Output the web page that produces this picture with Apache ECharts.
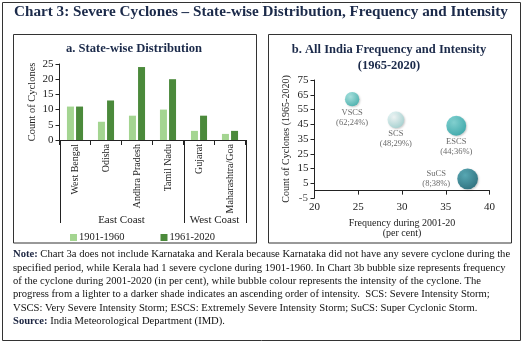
<!DOCTYPE html>
<html><head><meta charset="utf-8">
<script src="https://cdn.jsdelivr.net/npm/echarts@6/dist/echarts.min.js"></script>
<style>html,body{margin:0;padding:0;background:#fff}#c{width:523px;height:343px}</style>
</head><body><div id="c"></div>
<script>
// ---------- data ----------
const mainTitle = 'Chart 3: Severe Cyclones \u2013 State-wise Distribution, Frequency and Intensity';
const titleA = 'a. State-wise Distribution';
const titleB = 'b. All India Frequency and Intensity\n(1965-2020)';
const states = ['West Bengal', 'Odisha', 'Andhra Pradesh', 'Tamil Nadu', 'Gujarat', 'Maharashtra/Goa'];
const groupNames = ['East Coast', 'West Coast'];
const groupStart = [0, 4];
const groupEnd = [3, 5];
const periodNames = ['1901-1960', '1961-2020'];
const counts1901 = [11, 6, 8, 10, 3, 2];
const counts1961 = [11, 13, 24, 20, 8, 3];
const countTicksA = [0, 5, 10, 15, 20, 25];

const stormTypes = ['VSCS', 'SCS', 'ESCS', 'SuCS'];
const stormFreqX = [24.3, 29.3, 36.2, 37.5];   // plotted position
const stormCount = [62, 48, 44, 8];
const stormPct = [24, 29, 36, 38];              // labelled per cent (bubble size)
const countTicksB = [-5, 5, 15, 25, 35, 45, 55, 65, 75];
const freqTicks = [20, 25, 30, 35, 40];

const noteLines = [
  ['Note:', ' Chart 3a does not include Karnataka and Kerala because Karnataka did not have any severe cyclone during the'],
  ['', 'specified period, while Kerala had 1 severe cyclone during 1901-1960. In Chart 3b bubble size represents frequency'],
  ['', 'of the cyclone during 2001-2020 (in per cent), while bubble colour represents the intensity of the cyclone. The'],
  ['', 'progress from a lighter to a darker shade indicates an ascending order of intensity.  SCS: Severe Intensity Storm;'],
  ['', 'VSCS: Very Severe Intensity Storm; ESCS: Extremely Severe Intensity Storm; SuCS: Super Cyclonic Storm.'],
  ['Source:', ' India Meteorological Department (IMD).']
];

// ---------- styles ----------
const FONT = '"Liberation Serif", "Times New Roman", serif';
const lightGreen = '#a4d591';
const darkGreen = '#4b8a3b';
const bubbleColors = [
  ['#9ee3df', '#2aa8a4'],
  ['#f4fcfc', '#98cfce'],
  ['#6fd0cf', '#1a9ea1'],
  ['#3a9eac', '#085a6b']
];

const chart = echarts.init(document.getElementById('c'), null, {renderer: 'canvas'});

const bubbleData = stormTypes.map((t, i) => ({
  name: t,
  value: [stormFreqX[i], stormCount[i], stormPct[i]],
  itemStyle: {
    color: new echarts.graphic.RadialGradient(0.38, 0.33, 0.75, [
      {offset: 0, color: bubbleColors[i][0]},
      {offset: 1, color: bubbleColors[i][1]}
    ]),
    shadowColor: 'rgba(0,0,0,0.25)', shadowBlur: 2, shadowOffsetX: 1, shadowOffsetY: 1
  },
  label: t === 'SuCS' ? {position: [-21, 10], verticalAlign: 'middle'} : {position: 'bottom', distance: 1}
}));

const noteGraphics = noteLines.map((ln, i) => ({
  id: 'note' + i, type: 'text', left: 13, top: 249 + i * 13.4,
  style: {
    text: (ln[0] ? '{b|' + ln[0] + '}' : '') + '{n|' + ln[1] + '}',
    rich: {
      b: {fontFamily: FONT, fontSize: 10.6, fontWeight: 'bold', fill: '#1b2440'},
      n: {fontFamily: FONT, fontSize: 10.6, fill: '#111'}
    }
  }
}));

const axisLineStyle = {lineStyle: {color: '#222', width: 1}};
const axisLabelStyle = {fontFamily: FONT, fontSize: 10, color: '#222'};

chart.setOption({
  animation: false,
  textStyle: {fontFamily: FONT},
  grid: [
    {left: 59.5, top: 64, width: 186, height: 76},
    {left: 314.5, top: 80, width: 175, height: 118}
  ],
  legend: {
    data: periodNames, left: 65, top: 227, itemWidth: 7, itemHeight: 7, itemGap: 36,
    icon: 'rect',
    textStyle: {fontFamily: FONT, fontSize: 10.5, color: '#222', padding: [0, 0, 0, -3]}
  },
  xAxis: [
    {
      type: 'category', gridIndex: 0, data: states,
      axisLine: axisLineStyle,
      axisTick: {show: true, length: 5, lineStyle: {color: '#222'}},
      axisLabel: Object.assign({rotate: 90, margin: 4, interval: 0}, axisLabelStyle)
    },
    {
      type: 'value', gridIndex: 1, min: 20, max: 40, interval: 5,
      axisLine: {onZero: true, lineStyle: {color: '#222', width: 1}},
      axisTick: {show: true, length: 4, lineStyle: {color: '#222'}},
      axisLabel: Object.assign({margin: 4, formatter: v => freqTicks.includes(v) ? String(v) : ''}, axisLabelStyle, {fontSize: 11}),
      splitLine: {show: false},
      name: 'Frequency during 2001-20\n(per cent)', nameLocation: 'middle', nameGap: 20,
      nameTextStyle: {fontFamily: FONT, fontSize: 10, color: '#222', lineHeight: 10.5, verticalAlign: 'top'}
    }
  ],
  yAxis: [
    {
      type: 'value', gridIndex: 0, min: 0, max: 25, interval: 5,
      axisLine: {show: true, lineStyle: {color: '#222', width: 1}},
      axisTick: {show: true, length: 4, lineStyle: {color: '#222'}},
      axisLabel: Object.assign({margin: 6, formatter: v => countTicksA.includes(v) ? String(v) : ''}, axisLabelStyle, {fontSize: 11}),
      splitLine: {show: false},
      name: 'Count of Cyclones', nameLocation: 'middle', nameGap: 22,
      nameTextStyle: {fontFamily: FONT, fontSize: 10.5, color: '#222'}
    },
    {
      type: 'value', gridIndex: 1, min: -5, max: 75,
      axisLine: {show: true, lineStyle: {color: '#222', width: 1}},
      axisTick: {show: true, length: 4, lineStyle: {color: '#222'}, customValues: countTicksB},
      axisLabel: Object.assign({margin: 6, customValues: countTicksB.slice(1)}, axisLabelStyle, {fontSize: 11}),
      splitLine: {show: false},
      name: 'Count of Cyclones (1965-2020)', nameLocation: 'middle', nameGap: 23,
      nameTextStyle: {fontFamily: FONT, fontSize: 10, color: '#222'}
    }
  ],
  series: [
    {
      name: periodNames[0], type: 'bar', xAxisIndex: 0, yAxisIndex: 0, data: counts1901,
      barWidth: 7, barGap: '30%', itemStyle: {color: lightGreen}
    },
    {
      name: periodNames[1], type: 'bar', xAxisIndex: 0, yAxisIndex: 0, data: counts1961,
      barWidth: 7, barGap: '30%', itemStyle: {color: darkGreen}
    },
    {
      name: 'Severe cyclones', type: 'scatter', xAxisIndex: 1, yAxisIndex: 1,
      data: bubbleData,
      symbolSize: v => 0.46 * v[2] + 3.3,
      label: {
        show: true, fontFamily: FONT, fontSize: 8.5, color: '#444', lineHeight: 10, align: 'center',
        formatter: p => p.name + '\n(' + p.value[1] + ';' + p.value[2] + '%)'
      }
    },
    {
      // lowest count tick label of chart b, placed through the library's scales
      name: 'minTickLabel', type: 'scatter', xAxisIndex: 1, yAxisIndex: 1,
      data: [[freqTicks[0], countTicksB[0]]], symbolSize: 1, clip: false, silent: true, z: 10,
      itemStyle: {color: 'rgba(0,0,0,0)'},
      label: {
        show: true, position: 'left', distance: 6, fontFamily: FONT, fontSize: 11, color: '#222',
        formatter: p => String(p.value[1])
      }
    }
  ],
  graphic: [
    {id: 'outer', type: 'rect', shape: {x: 2.5, y: 2.5, width: 518, height: 338}, style: {fill: 'none', stroke: '#333', lineWidth: 1}, silent: true},
    {id: 'boxA', type: 'rect', shape: {x: 13.5, y: 34.5, width: 243, height: 208.5}, style: {fill: 'none', stroke: '#333', lineWidth: 1}, silent: true},
    {id: 'boxB', type: 'rect', shape: {x: 268.5, y: 34.5, width: 243, height: 208.5}, style: {fill: 'none', stroke: '#333', lineWidth: 1}, silent: true},
    {id: 'title', type: 'text', left: 14, top: 5, style: {text: mainTitle, fontFamily: FONT, fontSize: 15.2, fontWeight: 'bold', fill: '#1b2a4a'}},
    {id: 'titleA', type: 'text', x: 134, y: 42, style: {text: titleA, fontFamily: FONT, fontSize: 12.6, fontWeight: 'bold', fill: '#1b2a4a', align: 'center'}},
    {id: 'titleB', type: 'text', x: 389, y: 42, style: {text: titleB, fontFamily: FONT, fontSize: 12.5, fontWeight: 'bold', fill: '#1b2a4a', align: 'center', lineHeight: 16}}
  ].concat(noteGraphics)
});

// group separators and group labels, positioned from the category scale
function addGroups() {
  const c0 = chart.convertToPixel({xAxisIndex: 0}, states[0]);
  const c1 = chart.convertToPixel({xAxisIndex: 0}, states[1]);
  const band = c1 - c0;
  const yAxisPix = chart.convertToPixel({yAxisIndex: 0}, 0);
  const bottom = 223;
  const els = [];
  const bounds = new Set();
  groupNames.forEach((g, gi) => {
    const x0 = chart.convertToPixel({xAxisIndex: 0}, states[groupStart[gi]]) - band / 2;
    const x1 = chart.convertToPixel({xAxisIndex: 0}, states[groupEnd[gi]]) + band / 2;
    bounds.add(Math.round(x0) + 0.5); bounds.add(Math.round(x1) + 0.5);
    els.push({type: 'text', x: (x0 + x1) / 2, y: 215,
      style: {text: g, fontFamily: FONT, fontSize: 11, fill: '#222', align: 'center'}});
  });
  bounds.forEach(x => els.push({type: 'line', shape: {x1: x, y1: yAxisPix, x2: x, y2: bottom},
    style: {stroke: '#222', lineWidth: 1}, silent: true}));
  chart.setOption({graphic: els.map((e, i) => Object.assign({id: 'grp' + i}, e))});
}
addGroups();
</script>
</body></html>
